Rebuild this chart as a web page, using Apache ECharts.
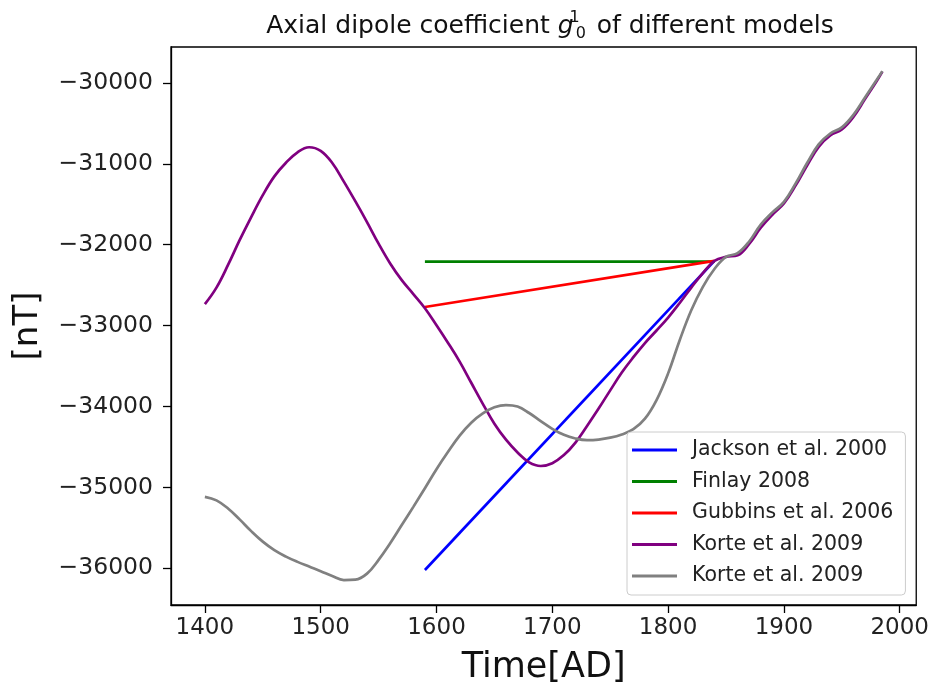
<!DOCTYPE html>
<html>
<head>
<meta charset="utf-8">
<script src="https://cdn.jsdelivr.net/npm/echarts@6/dist/echarts.min.js"></script>
<style>
html,body{margin:0;padding:0;background:#fff;}
#chart{width:932px;height:690px;}
</style>
</head>
<body>
<div id="chart"></div>
<script>
// ---- data ----
const seriesNames = ['Jackson et al. 2000', 'Finlay 2008', 'Gubbins et al. 2006', 'Korte et al. 2009', 'Korte et al. 2009 '];
const seriesColors = ['#0000ff', '#008000', '#ff0000', '#800080', '#808080'];

const yearsLinear = [1590, 1840];
const jackson = [-36020, -32200];
const finlay = [-32210, -32210];
const gubbins = [-32770, -32200];

const yearsKorte = [1400,1410,1420,1430,1440,1450,1460,1470,1480,1490,1500,1510,1520,1530,1540,1550,1560,1570,1580,1590,
  1600,1610,1620,1630,1640,1650,1660,1670,1680,1690,1700,1710,1720,1730,1740,1750,1760,1770,1780,1790,
  1800,1810,1820,1830,1840,1850,1860,1870,1880,1890,1900,1910,1920,1930,1940,1950,1960,1970,1980,1985];
const kortePurple = [-32734,-32530,-32250,-31944,-31658,-31387,-31155,-30987,-30857,-30795,-30840,-30990,-31220,-31465,-31720,-31987,-32232,-32438,-32610,-32785,
  -32995,-33214,-33445,-33706,-33966,-34212,-34410,-34568,-34690,-34735,-34700,-34600,-34445,-34240,-34025,-33800,-33580,-33390,-33215,-33060,
  -32900,-32720,-32530,-32350,-32200,-32150,-32130,-31990,-31790,-31630,-31490,-31270,-31020,-30790,-30650,-30575,-30420,-30200,-29980,-29860];
const korteGray = [-35116,-35160,-35260,-35395,-35540,-35670,-35775,-35855,-35920,-35978,-36035,-36095,-36145,-36140,-36065,-35895,-35690,-35465,-35240,-35010,
  -34775,-34560,-34360,-34200,-34085,-34010,-33982,-34000,-34080,-34180,-34275,-34350,-34395,-34415,-34408,-34385,-34345,-34280,-34150,-33920,
  -33590,-33180,-32810,-32520,-32300,-32150,-32105,-31960,-31750,-31600,-31470,-31245,-30990,-30760,-30625,-30550,-30395,-30180,-29965,-29854];

const xTicks = [1400,1500,1600,1700,1800,1900,2000];
const yTicks = [-36000,-35000,-34000,-33000,-32000,-31000,-30000];

// ---- chart ----
const FONT = 'DejaVu Sans';
function pairs(xs, ys){ return xs.map((x,i)=>[x, ys[i]]); }
const seriesData = [
  pairs(yearsLinear, jackson),
  pairs(yearsLinear, finlay),
  pairs(yearsLinear, gubbins),
  pairs(yearsKorte, kortePurple),
  pairs(yearsKorte, korteGray)
];

const chart = echarts.init(document.getElementById('chart'), null, {renderer:'canvas'});
const option = {
  animation: false,
  backgroundColor: '#ffffff',
  title: {
    text: 'Axial dipole coefficient {g|g}{sup|1}{sub|0} of different models',
    left: 545,
    textAlign: 'center',
    top: 5,
    textStyle: {
      fontFamily: FONT, fontSize: 25, fontWeight: 'normal', color: '#111', lineHeight: 32,
      rich: {
        g: {fontFamily: FONT, fontSize: 25, fontStyle: 'italic', color: '#111', lineHeight: 32},
        sup: {fontFamily: FONT, fontSize: 16, color: '#111', width: 0, verticalAlign: 'top', lineHeight: 32, padding: [0,0,0,1]},
        sub: {fontFamily: FONT, fontSize: 16, color: '#111', verticalAlign: 'bottom', lineHeight: 32, padding: [0,3,0,1]}
      }
    }
  },
  grid: {
    left: 171, right: 12, top: 47, bottom: 85,
    show: true, borderColor: '#000', borderWidth: 1.3, backgroundColor: '#fff'
  },
  legend: {
    orient: 'vertical',
    left: 627, top: 432,
    data: seriesNames.map((n,i)=>({name: n, itemStyle: {color: seriesColors[i]}})),
    icon: 'rect',
    itemWidth: 45, itemHeight: 3,
    itemGap: 7.5,
    padding: [6, 12, 7, 5],
    backgroundColor: '#fff',
    borderColor: '#cccccc', borderWidth: 1, borderRadius: 4,
    textStyle: {fontFamily: FONT, fontSize: 20.5, color: '#222', lineHeight: 24, padding: [0,0,0,10]},
    selectedMode: false
  },
  xAxis: {
    type: 'value',
    min: 1370.75, max: 2014.25,
    name: 'Time[AD]',
    nameLocation: 'middle',
    nameGap: 45,
    nameTextStyle: {fontFamily: FONT, fontSize: 35, color: '#111'},
    axisLine: {show: true, lineStyle: {color: '#000', width: 1.3}},
    axisTick: {show: true, inside: false, length: 8, lineStyle: {color: '#000', width: 1.3}, customValues: xTicks},
    axisLabel: {fontFamily: FONT, fontSize: 23, color: '#222', margin: 12, customValues: xTicks,
      formatter: v => String(v)},
    splitLine: {show: false}
  },
  yAxis: {
    type: 'value',
    min: -36453, max: -29556,
    name: '[nT]',
    nameLocation: 'middle',
    nameRotate: 90,
    nameGap: 126,
    nameTextStyle: {fontFamily: FONT, fontSize: 34, color: '#111'},
    axisLine: {show: true, lineStyle: {color: '#000', width: 1.3}},
    axisTick: {show: true, inside: false, length: 8, lineStyle: {color: '#000', width: 1.3}, customValues: yTicks},
    axisLabel: {fontFamily: FONT, fontSize: 23.5, color: '#222', margin: 18, customValues: yTicks,
      formatter: v => String(v).replace('-', '\u2212')},
    splitLine: {show: false}
  },
  series: seriesNames.map((n,i)=>({
    name: n,
    type: 'line',
    data: seriesData[i],
    color: seriesColors[i],
    showSymbol: false,
    symbol: 'none',
    smooth: i >= 3 ? 0.4 : false,
    lineStyle: {color: seriesColors[i], width: 2.7},
    emphasis: {disabled: true}
  }))
};
chart.setOption(option);
</script>
</body>
</html>
